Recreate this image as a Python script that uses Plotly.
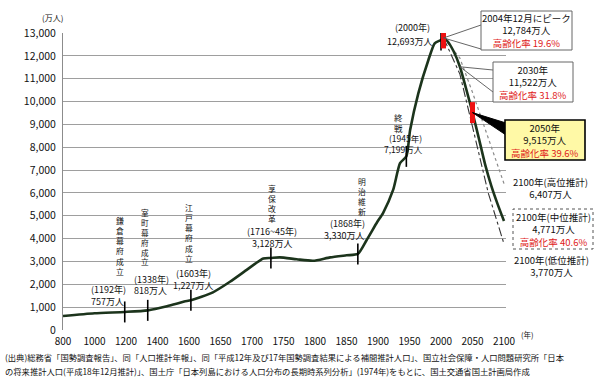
import numpy as np
import plotly.graph_objects as go

# ---------------- data ----------------
hist_years = [800, 1000, 1192, 1338, 1460, 1520, 1570, 1603, 1638, 1665, 1691, 1718, 1730,
              1744, 1771, 1797, 1824, 1850, 1868, 1882, 1899, 1908, 1924, 1935, 1945, 1951,
              1964, 1980, 1990, 2000, 2004]
hist_pop = [610, 730, 790, 860, 1040, 1150, 1250, 1300, 1650, 2110, 2620, 3130, 3150,
            3180, 3095, 3030, 3180, 3270, 3330, 3940, 4740, 5120, 6130, 7300, 7600, 8750,
            10360, 11818, 12550, 12693, 12784]

proj_years = [2004, 2010, 2020, 2030, 2040, 2050, 2060, 2070, 2080, 2090, 2100]
proj_mid = [12784, 12650, 12200, 11522, 10550, 9515, 8400, 7250, 6300, 5500, 4771]

branch_years = [2004, 2030, 2050, 2075, 2100]
proj_high = [12784, 11900, 10400, 8400, 6407]
proj_low = [12784, 11200, 8900, 6000, 3770]

event_years = [1192, 1338, 1603, 1730, 1868, 1945, 2000]
key_years = [2004, 2050]
key_pop = [12784, 9515]

tick_years = [800, 1000, 1200, 1400, 1600, 1650, 1700, 1750, 1800, 1850, 1900, 1950, 2000, 2050, 2100]
y_ticks = list(range(0, 13001, 1000))

FONT = "Noto Sans CJK JP"

# ---------------- layout geometry ----------------
L, T, B = 63, 33, 330
W = 443
H = B - T
STEP = 31.5               # pixels per tick interval
XMAX = W / STEP
YMAX = 13000


def xi(year):
    """Position on the (non-uniform) year axis: 200-year steps until 1600, 50-year steps after."""
    if year <= 1600:
        return (year - 800) / 200.0
    return 4 + (year - 1600) / 50.0


def xs(years):
    return [xi(y) for y in years]


def px(x):
    return (x - L) / W


def py(y):
    return (B - y) / H


def dpx(year):
    return xi(year) / XMAX


def dpy(v):
    return v / YMAX


fig = go.Figure()

# projections (branches)
fig.add_trace(go.Scatter(x=xs(branch_years), y=proj_high, mode="lines",
                         line=dict(color="#8a8a8a", width=1.2, dash="dot"), hoverinfo="skip"))
fig.add_trace(go.Scatter(x=xs(branch_years), y=proj_low, mode="lines",
                         line=dict(color="#333333", width=1.1, dash="dashdot"), hoverinfo="skip"))
# main line
fig.add_trace(go.Scatter(x=xs(hist_years) + xs(proj_years[1:]), y=hist_pop + proj_mid[1:],
                         mode="lines", line=dict(color="#1c341c", width=2.6, shape="spline", smoothing=0.6),
                         hoverinfo="skip"))
# event ticks
ev_vals = list(np.interp(event_years, hist_years, hist_pop))
fig.add_trace(go.Scatter(x=xs(event_years), y=ev_vals, mode="markers",
                         marker=dict(symbol="line-ns", size=15, line=dict(color="#000000", width=1.6)),
                         hoverinfo="skip"))
# key red markers
fig.add_trace(go.Scatter(x=xs(key_years), y=key_pop, mode="markers",
                         marker=dict(symbol="line-ns", size=15, line=dict(color="#ee1111", width=5)),
                         hoverinfo="skip"))

ann = []
shapes = []


def text(x, y, s, size=9, color="#111111", xanchor="center"):
    ann.append(dict(x=px(x), y=py(y), xref="paper", yref="paper", text=s, showarrow=False,
                    xanchor=xanchor, yanchor="middle", font=dict(family=FONT, size=size, color=color)))


def vtext(x, y0, s, size=8):
    """Vertical (tategaki) label: one character per line; y0 = centre of the first character."""
    step = 1.3 * size
    yc = y0 + (len(s) - 1) * step / 2
    text(x, yc, "<br>".join(s), size=size)


RED = "#e01a1a"

# event labels
vtext(120, 221, "鎌倉幕府成立", size=7.8)
text(108, 289, "(1192年)")
text(107, 301, "757万人")

vtext(145, 212, "室町幕府成立", size=7.6)
text(151, 279, "(1338年)")
text(150, 290, "818万人")

vtext(189, 208, "江戸幕府成立", size=7.8)
text(193, 273, "(1603年)")
text(193, 285, "1,227万人")

vtext(272, 188, "享保改革", size=7.8)
text(272, 231, "(1716~45年)")
text(272, 243, "3,128万人")

vtext(362, 181, "明治維新", size=7.8)
text(347, 223.5, "(1868年)")
text(344, 235, "3,330万人")

vtext(398, 117, "終戦", size=8.5)
text(405, 138, "(1945年)", size=8.5)
text(403, 149, "7,199万人", size=8.5)

text(412, 28, "(2000年)")
text(409, 42, "12,693万人")

# callout A: 2004 peak
shapes.append(dict(type="path", xref="paper", yref="paper",
                   path=f"M {px(481)},{py(25)} L {dpx(2004)},{dpy(12784)} L {px(481)},{py(49)}",
                   line=dict(color="#555555", width=0.9)))
shapes.append(dict(type="rect", xref="paper", yref="paper", x0=px(481), x1=px(572), y0=py(50), y1=py(11),
                   line=dict(color="#666666", width=1), fillcolor="white"))
text(526.5, 30.5, f"2004年12月にピーク<br>12,784万人<br><span style='color:{RED}'>高齢化率 19.6%</span>", size=9.5)

# callout B: 2030
shapes.append(dict(type="path", xref="paper", yref="paper",
                   path=f"M {px(493)},{py(70)} L {dpx(2030)},{dpy(11522)} L {px(493)},{py(92)}",
                   line=dict(color="#555555", width=0.9)))
shapes.append(dict(type="rect", xref="paper", yref="paper", x0=px(493), x1=px(573), y0=py(102), y1=py(62),
                   line=dict(color="#666666", width=1), fillcolor="white"))
text(533, 82, f"2030年<br>11,522万人<br><span style='color:{RED}'>高齢化率 31.8%</span>", size=9.5)

# callout C: 2050 (yellow)
shapes.append(dict(type="path", xref="paper", yref="paper",
                   path=f"M {px(506)},{py(123)} L {dpx(2050)},{dpy(9515)} L {px(506)},{py(135)} Z",
                   line=dict(color="#000000", width=1), fillcolor="#000000"))
shapes.append(dict(type="rect", xref="paper", yref="paper", x0=px(505), x1=px(585), y0=py(160), y1=py(120),
                   line=dict(color="#000000", width=1.6), fillcolor="#fff9a6"))
text(545, 140, f"2050年<br>9,515万人<br><span style='color:{RED}'>高齢化率 39.6%</span>", size=9.5)

# 2100 labels
text(550, 188, "2100年(高位推計)<br>6,407万人", size=9.5)
shapes.append(dict(type="rect", xref="paper", yref="paper", x0=px(513), x1=px(593), y0=py(249), y1=py(209),
                   line=dict(color="#555555", width=1, dash="dot"), fillcolor="white"))
text(553, 229, f"2100年(中位推計)<br>4,771万人<br><span style='color:{RED}'>高齢化率 40.6%</span>", size=9.5)
text(551, 266, "2100年(低位推計)<br>3,770万人", size=9.5)

# units
text(52, 18, "(万人)", size=8)
text(527, 334, "(年)", size=7.5)

# footnote
text(3, 357, "(出典)総務省「国勢調査報告」、同「人口推計年報」、同「平成12年及び17年国勢調査結果による補間推計人口」、国立社会保障・人口問題研究所「日本",
     size=8.3, xanchor="left")
text(3, 371, "の将来推計人口(平成18年12月推計)」、国土庁「日本列島における人口分布の長期時系列分析」(1974年)をもとに、国土交通省国土計画局作成",
     size=8.3, xanchor="left")

fig.update_layout(
    width=600, height=384,
    margin=dict(l=L, r=600 - L - W, t=T, b=384 - B, pad=0),
    paper_bgcolor="white", plot_bgcolor="white",
    showlegend=False,
    annotations=ann, shapes=shapes,
    font=dict(family=FONT, color="#111111"),
)
fig.update_xaxes(range=[0, XMAX], tickvals=xs(tick_years), ticktext=[str(t) for t in tick_years],
                 showgrid=False, zeroline=False, showline=False, ticks="", ticklabelstandoff=4,
                 tickfont=dict(family=FONT, size=10, color="#111111"), fixedrange=True)
fig.update_yaxes(range=[0, YMAX], tickvals=y_ticks, tickformat=",d",
                 showgrid=True, gridcolor="#9e9e9e", gridwidth=1, zeroline=False,
                 showline=True, linecolor="#8c8c8c", linewidth=1, ticks="", ticklabelstandoff=4,
                 tickfont=dict(family=FONT, size=10.5, color="#111111"), fixedrange=True)

fig.write_html("out.html", config={"displayModeBar": False},
               post_script="document.body.style.margin='0';document.body.style.overflow='hidden';")
